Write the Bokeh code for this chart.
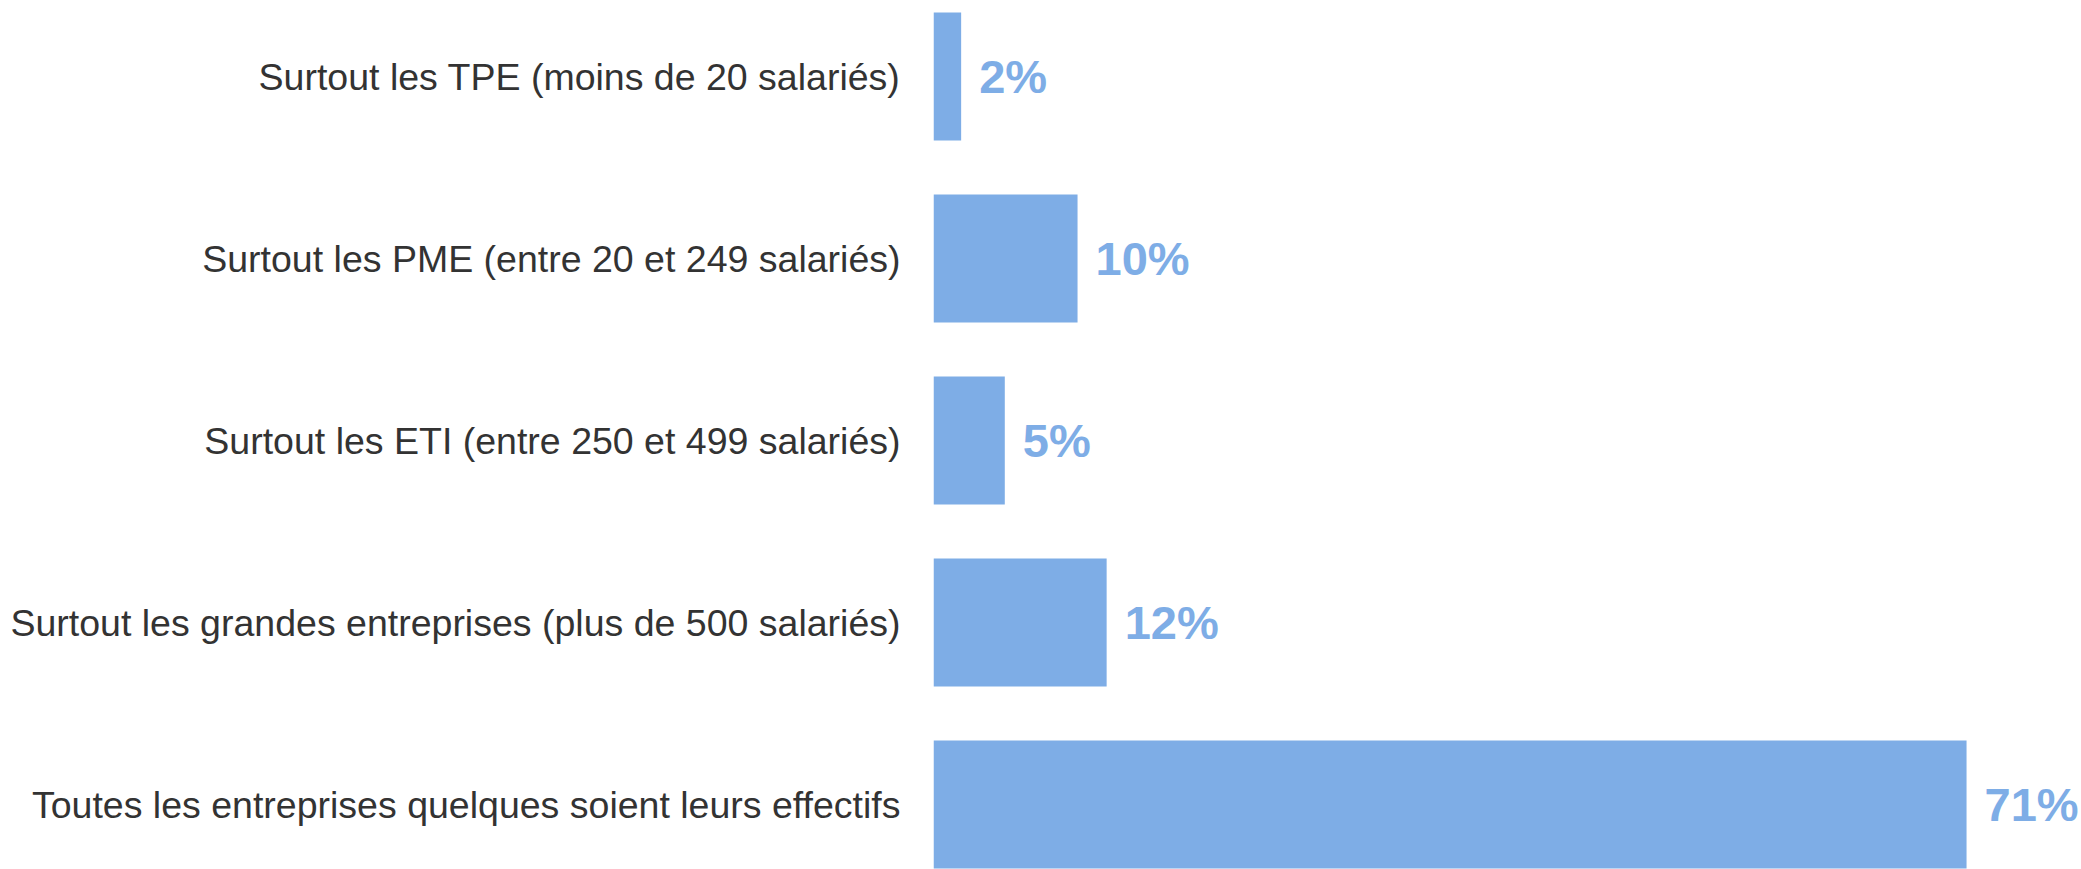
from bokeh.plotting import figure
from bokeh.models import Range1d, FixedTicker, ColumnDataSource
from bokeh.core.properties import value
from bokeh.embed import file_html
from bokeh.resources import INLINE

categories = [
    "Surtout les TPE (moins de 20 salariés)",
    "Surtout les PME (entre 20 et 249 salariés)",
    "Surtout les ETI (entre 250 et 499 salariés)",
    "Surtout les grandes entreprises (plus de 500 salariés)",
    "Toutes les entreprises quelques soient leurs effectifs",
]
values = [1.9, 9.9, 4.9, 11.9, 71.0]
positions = [4, 3, 2, 1, 0]
labels = [f"{round(v)}%" for v in values]

BAR = "#7eade6"
TXT = "#333333"

src = ColumnDataSource(dict(y=positions, v=values, lab=labels))

# frame: left at 933px, width 1148px; 14.55 px per percent
# rows: 182px pitch, first bar centre at 76px, frame height 869px
top = 4 + 76 / 182
p = figure(
    width=2081, height=869,
    x_range=Range1d(0, 1148 / 14.55),
    y_range=Range1d(top - 869 / 182, top),
    output_backend="svg", toolbar_location=None,
    min_border_left=933, min_border_right=0, min_border_top=0, min_border_bottom=0,
)
p.hbar(y="y", right="v", left=0, height=0.7033, source=src, fill_color=BAR, line_color=None)
p.text(x="v", y="y", text="lab", source=src, x_offset=18,
       text_baseline="middle", text_align="left",
       text_font=value("Liberation Sans"), text_font_style="bold",
       text_font_size="47px", text_color=BAR)

p.xaxis.visible = False
p.xgrid.visible = False
p.ygrid.visible = False
p.outline_line_color = None

ax = p.yaxis[0]
ax.ticker = FixedTicker(ticks=positions)
ax.major_label_overrides = {pos: cat for pos, cat in zip(positions, categories)}
ax.axis_line_color = None
ax.major_tick_line_color = None
ax.minor_tick_line_color = None
ax.major_tick_out = 0
ax.major_tick_in = 0
ax.minor_tick_out = 0
ax.major_label_standoff = 33
ax.major_label_text_font = "Liberation Sans"
ax.major_label_text_font_size = "37.5px"
ax.major_label_text_color = TXT

open("out.html", "w").write(file_html(p, INLINE))
